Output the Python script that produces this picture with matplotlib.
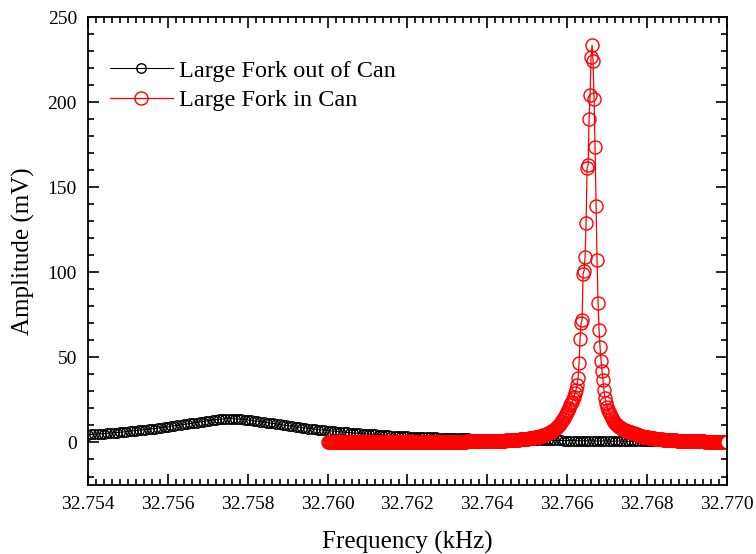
import numpy as np
import matplotlib
matplotlib.use("Agg")
import matplotlib.pyplot as plt
from matplotlib.ticker import MultipleLocator, FormatStrFormatter

plt.rcParams['font.family'] = ['Liberation Serif', 'DejaVu Serif']

# frequency sweeps (kHz)
black_start, black_stop, black_n = 32.754, 32.770, 201
red_start, red_stop, red_n = 32.760, 32.770, 401

# amplitude (mV), fork out of can
black_amp = [
    4.6, 4.7, 4.8, 4.9, 5.1, 5.2, 5.4, 5.5, 5.7, 5.8, 6.0,
    6.2, 6.4, 6.6, 6.8, 7.0, 7.2, 7.4, 7.6, 7.8, 8.0,
    8.2, 8.5, 8.7, 9.0, 9.2, 9.5, 9.8, 10.0, 10.3, 10.6,
    10.9, 11.2, 11.4, 11.7, 12.0, 12.3, 12.6, 12.9, 13.1, 13.4,
    13.6, 13.8, 13.9, 14.0, 14.0, 13.9, 13.8, 13.6, 13.4, 13.2,
    13.0, 12.7, 12.5, 12.2, 12.0, 11.7, 11.4, 11.2, 10.9, 10.6,
    10.3, 10.0, 9.8, 9.5, 9.2, 9.0, 8.7, 8.5, 8.2, 8.0,
    7.8, 7.6, 7.4, 7.2, 7.0, 6.8, 6.6, 6.4, 6.3, 6.1,
    5.9, 5.8, 5.6, 5.5, 5.3, 5.2, 5.1, 5.0, 4.8, 4.7,
    4.6, 4.5, 4.4, 4.2, 4.1, 4.0, 3.9, 3.8, 3.7, 3.6,
    3.5, 3.5, 3.4, 3.3, 3.2, 3.2, 3.1, 3.0, 3.0, 2.9,
    2.8, 2.8, 2.7, 2.7, 2.6, 2.5, 2.5, 2.4, 2.4, 2.3,
    2.3, 2.2, 2.2, 2.1, 2.1, 2.0, 2.0, 1.9, 1.9, 1.8,
    1.8, 1.8, 1.7, 1.7, 1.6, 1.6, 1.6, 1.5, 1.5, 1.4,
    1.4, 1.4, 1.3, 1.3, 1.3, 1.2, 1.2, 1.2, 1.1, 1.1,
    1.1, 1.1, 1.0, 1.0, 1.0, 1.0, 1.0, 0.9, 0.9, 0.9,
    0.9, 0.9, 0.8, 0.8, 0.8, 0.8, 0.8, 0.7, 0.7, 0.7,
    0.7, 0.7, 0.7, 0.7, 0.6, 0.6, 0.6, 0.6, 0.6, 0.6,
    0.6, 0.6, 0.6, 0.5, 0.5, 0.5, 0.5, 0.5, 0.5, 0.5,
    0.5, 0.5, 0.5, 0.5, 0.5, 0.5, 0.5, 0.5, 0.5, 0.5,
]

# amplitude (mV), fork in can
red_amp = (
    [0.0] * 50 + [0.1] * 30 + [0.2] * 15 + [0.3] * 15 + [0.4] * 20
    + [0.5] * 10 + [0.6] * 12 + [0.7] * 7 + [0.8] * 6
    + [0.8, 0.8, 0.9, 0.9, 0.9, 0.9, 0.9, 1.0, 1.0, 1.0,
       1.0, 1.1, 1.1, 1.1, 1.2, 1.2, 1.2, 1.3, 1.3, 1.3,
       1.4, 1.4, 1.5, 1.5, 1.6, 1.6, 1.7, 1.7, 1.8, 1.8,
       1.9, 1.9, 2.0, 2.0, 2.1, 2.2, 2.3, 2.4, 2.5, 2.6,
       2.7, 2.8, 2.9, 3.0, 3.1, 3.2, 3.4, 3.5, 3.7, 3.8,
       4.0, 4.2, 4.4, 4.6, 4.9, 5.1, 5.4, 5.7, 6.0, 6.3,
       6.7, 7.1, 7.5, 8.0, 8.5, 9.1, 9.7, 10.4, 11.1, 11.9,
       12.7, 13.6, 14.5, 15.5, 16.6, 17.8, 19.0, 20.5, 22.0, 23.0,
       24.0, 25.5, 27.0, 29.0, 31.0, 34.0,
       38.0, 46.7, 61.0, 70.0, 72.0, 99.0, 101.0, 109.0, 129.0, 161.0,
       163.0, 190.0, 204.0, 226.6, 233.5,
       224.3, 201.8, 173.5, 139.0, 107.0, 82.0, 66.0, 56.0, 48.0, 42.0,
       36.5, 30.6, 26.0, 23.0, 21.0, 19.0, 18.0, 16.6, 15.3, 14.1,
       13.0, 12.2, 11.5, 10.8, 10.2, 9.7, 9.3, 8.9, 8.5, 8.1,
       7.8, 7.5, 7.2, 6.9, 6.7, 6.5, 6.3, 6.1, 5.9, 5.7,
       5.5, 5.3, 5.1, 4.9, 4.7, 4.5, 4.3, 4.1, 3.9, 3.7,
       3.5, 3.4, 3.3, 3.2, 3.1, 3.0, 2.9, 2.8, 2.7, 2.6,
       2.5, 2.4, 2.3, 2.2, 2.1, 2.0, 1.95, 1.9, 1.85, 1.8,
       1.75, 1.7, 1.65, 1.6, 1.55, 1.5, 1.45, 1.4, 1.35, 1.3,
       1.3, 1.25, 1.2, 1.2, 1.15, 1.1, 1.1, 1.05, 1.0, 1.0,
       1.0, 0.95, 0.95, 0.9, 0.9, 0.9, 0.85, 0.85, 0.8, 0.8,
       0.8, 0.8, 0.75, 0.75, 0.7, 0.7, 0.7, 0.65, 0.65, 0.6,
       0.6, 0.6, 0.55, 0.55, 0.5, 0.5, 0.5, 0.5, 0.45, 0.45,
       0.45, 0.4, 0.4, 0.4, 0.4, 0.35, 0.35, 0.35, 0.3, 0.3,
       0.3, 0.3, 0.3, 0.3, 0.3]
)

black_freq = np.linspace(black_start, black_stop, black_n)
red_freq = np.linspace(red_start, red_stop, red_n)

fig = plt.figure(figsize=(7.56, 5.54), dpi=100)
ax = fig.add_axes([0.1164, 0.1245, 0.845, 0.8448])

ax.plot(black_freq, black_amp, color='black', lw=0.8, marker='o', ms=6.8,
        mfc='none', mec='black', mew=1.0, label='Large Fork out of Can')
ax.plot(red_freq, red_amp, color='red', lw=0.9, marker='o', ms=9.4,
        mfc='none', mec='red', mew=1.0, label='Large Fork in Can')
ax.plot(red_freq[-1], red_amp[-1], marker='o', ms=9.4, mfc='white',
        mec='red', mew=1.0, ls='none')

ax.set_xlim(32.754, 32.770)
ax.set_ylim(-25, 250)
ax.xaxis.set_major_locator(MultipleLocator(0.002))
ax.xaxis.set_minor_locator(MultipleLocator(0.0002))
ax.xaxis.set_major_formatter(FormatStrFormatter('%.3f'))
ax.yaxis.set_major_locator(MultipleLocator(50))
ax.yaxis.set_minor_locator(MultipleLocator(10))

ax.tick_params(which='both', direction='in', top=True, right=True,
               labelsize=14, width=1.2)
ax.tick_params(which='major', length=8)
ax.tick_params(axis='x', which='major', pad=8)
ax.tick_params(axis='y', which='major', pad=8)
ax.tick_params(which='minor', length=4)
for s in ax.spines.values():
    s.set_linewidth(1.3)

ax.set_xlabel('Frequency (kHz)', fontsize=18, labelpad=13)
ax.set_ylabel('Amplitude (mV)', fontsize=18, labelpad=9)

ax.legend(loc='upper left', frameon=False, fontsize=17.5, numpoints=1,
          handlelength=2.6, handletextpad=0.25, borderaxespad=0.5,
          labelspacing=0.3, bbox_to_anchor=(0.0, 0.955))

fig.savefig('out.png', dpi=100)
